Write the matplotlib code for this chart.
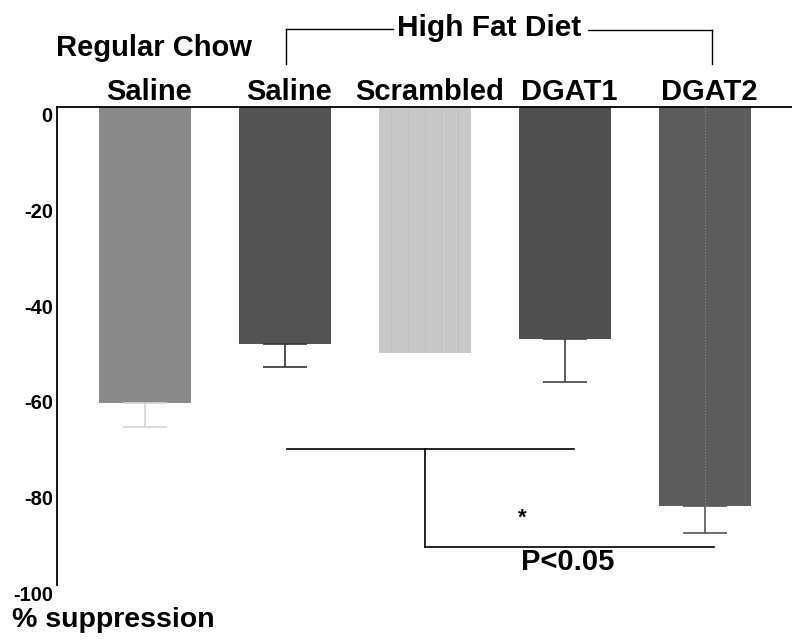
"""
% suppression by treatment group, bars hanging from zero
"""
import matplotlib
matplotlib.use("Agg")
import matplotlib.pyplot as plt
import matplotlib.transforms as mtransforms
import numpy as np

plt.rcParams['font.family'] = ['Liberation Sans', 'DejaVu Sans']
plt.rcParams['font.weight'] = 'bold'
plt.rcParams['hatch.linewidth'] = 0.5

groups = ["Saline", "Saline", "Scrambled", "DGAT1", "DGAT2"]
suppression = [-62, -49.5, -51.5, -48.5, -83.5]
sem = [5, 5, 0, 9, 5.5]
bar_colors = ["#8a8a8a", "#535353", "#c8c8c8", "#505050", "#5c5c5c"]
yticks = [0, -20, -40, -60, -80, -100]

x = np.arange(len(groups))

fig = plt.figure(figsize=(7.92, 6.43), dpi=100)
ax = fig.add_axes([0.072, 0.090, 0.928, 0.744])

bars = ax.bar(x, suppression, width=0.66, color=bar_colors, edgecolor='none', zorder=2)
# grainy vertical streaks on the scrambled bar
bars[2].set_hatch('|')
bars[2].set_edgecolor('#bababa')
bars[2].set_linewidth(0)

# error bars only extend away from zero
err_colors = ["#d4d4d4", "#333333", "#333333", "#444444", "#555555"]
for xi, v, e, c in zip(x, suppression, sem, err_colors):
    if e > 0:
        ax.errorbar(xi, v, yerr=[[e], [0]], fmt='none', ecolor=c,
                    elinewidth=1.2, capsize=16, capthick=1.2, zorder=3)
# faint line through the DGAT2 bar
ax.plot([x[4], x[4]], [0, suppression[4]], color="#8a8a8a", lw=0.8, ls=':', zorder=3)

ax.set_xlim(-0.63, 4.62)
ax.set_ylim(-100, 0)
ax.set_xticks([])
ax.set_yticks(yticks)
ax.set_yticklabels([str(t) for t in yticks], fontsize=14.5, fontweight='bold')
ax.tick_params(axis='y', length=0, pad=3)
offset = mtransforms.ScaledTranslation(0, -8 / 100, fig.dpi_scale_trans)
for lab in ax.get_yticklabels():
    lab.set_transform(lab.get_transform() + offset)

for s in ['right', 'bottom']:
    ax.spines[s].set_visible(False)
ax.spines['top'].set_linewidth(1.3)
ax.spines['left'].set_linewidth(1.3)

# group names above the zero line
for xi, g in zip(x, groups):
    ax.text(xi + 0.03, 3.1, g, ha='center', va='center', fontsize=21, clip_on=False)

ax.text(0.06, 12.3, "Regular Chow", ha='center', va='center', fontsize=21, clip_on=False)

# high fat diet bracket
lk = dict(color='black', lw=1.0, clip_on=False)
ax.plot([1.007, 1.007], [9.0, 16.3], **lk)
ax.plot([1.007, 1.77], [16.3, 16.3], **lk)
ax.plot([3.16, 4.05], [16.1, 16.1], **lk)
ax.plot([4.05, 4.05], [16.1, 9.0], **lk)
ax.text(2.46, 16.5, "High Fat Diet", ha='center', va='center', fontsize=21.5, clip_on=False)

# significance bracket
sk = dict(color='black', lw=1.2, zorder=4)
ax.plot([1.01, 3.06], [-71.5, -71.5], **sk)
ax.plot([2.0, 2.0], [-71.5, -92.0], **sk)
ax.plot([2.0, 4.06], [-92.0, -92.0], **sk)
ax.text(2.69, -86.0, "*", ha='center', va='center', fontsize=16)
ax.text(3.02, -95.2, "P<0.05", ha='center', va='center', fontsize=21, clip_on=False)

fig.text(12 / 792, 1 - 620 / 643, "% suppression", ha='left', va='center', fontsize=20.5)

fig.savefig("out.png", dpi=100)
